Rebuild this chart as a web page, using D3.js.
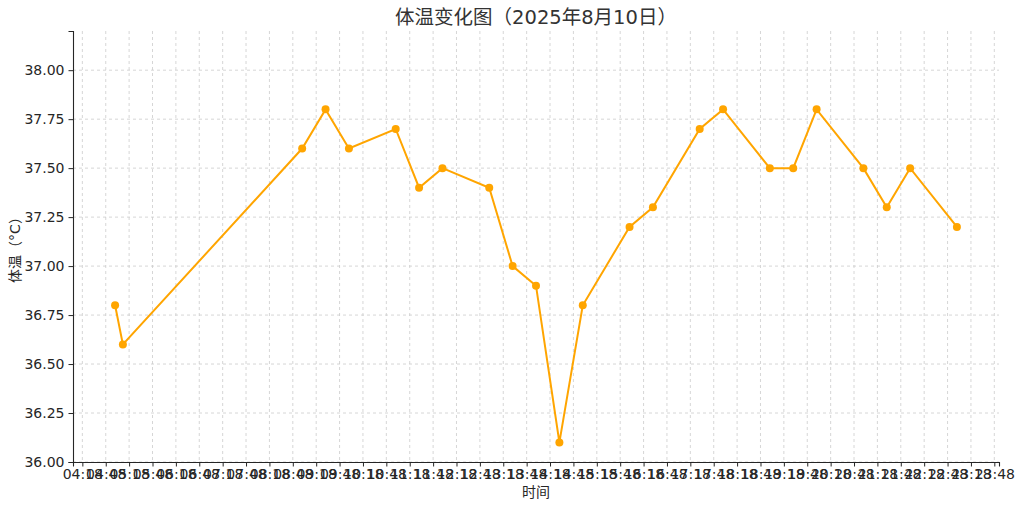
<!DOCTYPE html>
<html>
<head>
<meta charset="utf-8">
<script src="https://cdn.jsdelivr.net/npm/d3@7"></script>
<style>
  html, body { margin: 0; padding: 0; background: #fff; }
  svg { display: block; }
</style>
</head>
<body>
<svg id="chart" width="1024" height="508"></svg>
<script>
// ---- data ----
const day = "2025-08-10";
const times = ["05:00","05:10","09:00","09:30","10:00","11:00","11:30","12:00","13:00","13:30","14:00","14:30","15:00","16:00","16:30","17:30","18:00","19:00","19:30","20:00","21:00","21:30","22:00","23:00"];
const temps = [36.8,36.6,37.6,37.8,37.6,37.7,37.4,37.5,37.4,37.0,36.9,36.1,36.8,37.2,37.3,37.7,37.8,37.5,37.5,37.8,37.5,37.3,37.5,37.2];
const xTickLabels = ["04:18","04:48","05:18","05:48","06:18","06:48","07:18","07:48","08:18","08:48","09:18","09:48","10:18","10:48","11:18","11:48","12:18","12:48","13:18","13:48","14:18","14:48","15:18","15:48","16:18","16:48","17:18","17:48","18:18","18:48","19:18","19:48","20:18","20:48","21:18","21:48","22:18","22:48","23:18","23:48"];
const yTicks = [36.00,36.25,36.50,36.75,37.00,37.25,37.50,37.75,38.00];
const yDomain = [36.0, 38.2];
const titleText = "体温变化图（2025年8月10日）";
const xLabelText = "时间";
const yLabelText = "体温（°C）";

// ---- layout ----
const W = 1024, H = 508;
const margin = {left: 73, right: 25, top: 31, bottom: 46};
const iw = W - margin.left - margin.right;
const ih = H - margin.top - margin.bottom;
const parse = d3.timeParse("%Y-%m-%d %H:%M");
const data = times.map((t, i) => ({t: parse(day + " " + t), v: temps[i]}));
const tickDates = xTickLabels.map(t => parse(day + " " + t));

const ext = d3.extent(data, d => d.t);
const span = ext[1] - ext[0];
const x = d3.scaleTime()
  .domain([new Date(+ext[0] - 0.05 * span), new Date(+ext[1] + 0.05 * span)])
  .range([0, iw]);
const y = d3.scaleLinear().domain(yDomain).range([ih, 0]);

const svg = d3.select("#chart");
const g = svg.append("g").attr("transform", `translate(${margin.left},${margin.top})`);
const font = "'DejaVu Sans', 'Noto Sans CJK SC', sans-serif";

// grid
g.append("g").selectAll("line").data(tickDates).join("line")
  .attr("x1", d => x(d)).attr("x2", d => x(d))
  .attr("y1", 0).attr("y2", ih)
  .attr("stroke", "#cccccc").attr("stroke-width", 0.8).attr("stroke-dasharray", "3,3");
g.append("g").selectAll("line").data(yTicks).join("line")
  .attr("x1", 0).attr("x2", iw)
  .attr("y1", d => y(d)).attr("y2", d => y(d))
  .attr("stroke", "#cccccc").attr("stroke-width", 0.8).attr("stroke-dasharray", "3,3");

// axes
const xAxis = g.append("g").attr("transform", `translate(0,${ih})`)
  .call(d3.axisBottom(x).tickValues(tickDates).tickFormat(d3.timeFormat("%H:%M")).tickSizeOuter(0).tickSize(4.5).tickPadding(3));
const yAxis = g.append("g")
  .call(d3.axisLeft(y).tickValues(yTicks).tickFormat(d3.format(".2f")).tickSizeOuter(0).tickSize(4.5).tickPadding(4));
[xAxis, yAxis].forEach(a => {
  a.attr("font-family", null).attr("font-size", null);
  a.selectAll("text").style("font-family", font).style("font-size", "14px").attr("fill", "#262626");
  a.selectAll("line").attr("stroke", "#262626").attr("stroke-width", 1);
  a.select(".domain").attr("stroke", "#262626").attr("stroke-width", 1.1);
});

// line + points
g.append("path").datum(data)
  .attr("fill", "none").attr("stroke", "#FFA500").attr("stroke-width", 2)
  .attr("d", d3.line().x(d => x(d.t)).y(d => y(d.v)));
g.append("g").selectAll("circle").data(data).join("circle")
  .attr("cx", d => x(d.t)).attr("cy", d => y(d.v)).attr("r", 4)
  .attr("fill", "#FFA500");

// titles
svg.append("text").attr("x", margin.left + iw / 2).attr("y", 24)
  .attr("text-anchor", "middle").style("font-family", font).style("font-size", "19.5px")
  .attr("fill", "#333").text(titleText);
svg.append("text").attr("x", margin.left + iw / 2).attr("y", 497)
  .attr("text-anchor", "middle").style("font-family", font).style("font-size", "14px")
  .attr("fill", "#262626").text(xLabelText);
svg.append("text").attr("transform", `translate(20,${margin.top + ih / 2}) rotate(-90)`)
  .attr("text-anchor", "middle").style("font-family", font).style("font-size", "14px")
  .attr("fill", "#262626").text(yLabelText);
</script>
</body>
</html>
